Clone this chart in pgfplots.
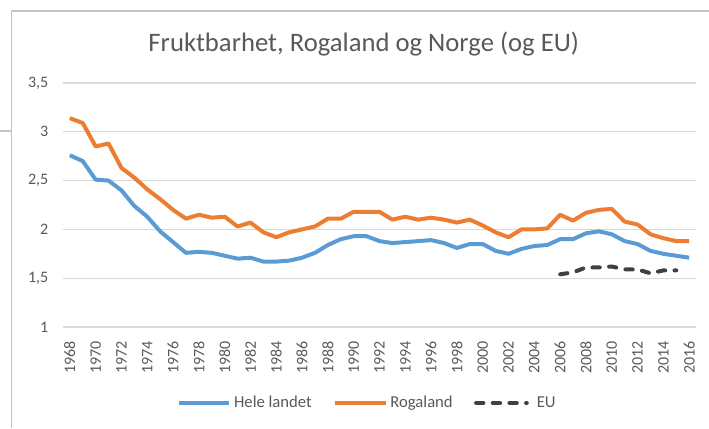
\documentclass[border=0pt]{standalone}
\usepackage{pgfplots}
\pgfplotsset{compat=1.18}
\usepackage{fontspec}
\setmainfont{Carlito}
\definecolor{cblue}{HTML}{5B9BD5}
\definecolor{corange}{HTML}{ED7D31}
\definecolor{ceu}{HTML}{404040}
\definecolor{cgrid}{HTML}{D9D9D9}
\definecolor{ctext}{HTML}{595959}
\definecolor{cframe}{HTML}{C4C4C4}
\pgfplotstableread{
year val
1968 2.76
1969 2.70
1970 2.51
1971 2.50
1972 2.40
1973 2.24
1974 2.13
1975 1.98
1976 1.87
1977 1.76
1978 1.77
1979 1.76
1980 1.73
1981 1.70
1982 1.71
1983 1.67
1984 1.67
1985 1.68
1986 1.71
1987 1.76
1988 1.84
1989 1.90
1990 1.93
1991 1.93
1992 1.88
1993 1.86
1994 1.87
1995 1.88
1996 1.89
1997 1.86
1998 1.81
1999 1.85
2000 1.85
2001 1.78
2002 1.75
2003 1.80
2004 1.83
2005 1.84
2006 1.90
2007 1.90
2008 1.96
2009 1.98
2010 1.95
2011 1.88
2012 1.85
2013 1.78
2014 1.75
2015 1.73
2016 1.71
}\helelandet
\pgfplotstableread{
year val
1968 3.14
1969 3.09
1970 2.85
1971 2.88
1972 2.63
1973 2.53
1974 2.41
1975 2.31
1976 2.20
1977 2.11
1978 2.15
1979 2.12
1980 2.13
1981 2.03
1982 2.07
1983 1.97
1984 1.92
1985 1.97
1986 2.00
1987 2.03
1988 2.11
1989 2.11
1990 2.18
1991 2.18
1992 2.18
1993 2.10
1994 2.13
1995 2.10
1996 2.12
1997 2.10
1998 2.07
1999 2.10
2000 2.04
2001 1.97
2002 1.92
2003 2.00
2004 2.00
2005 2.01
2006 2.15
2007 2.09
2008 2.17
2009 2.20
2010 2.21
2011 2.08
2012 2.05
2013 1.95
2014 1.91
2015 1.88
2016 1.88
}\rogaland
\pgfplotstableread{
year val
2006 1.54
2007 1.56
2008 1.61
2009 1.61
2010 1.62
2011 1.59
2012 1.59
2013 1.55
2014 1.58
2015 1.58
}\eu
\begin{document}
\begin{tikzpicture}[x=1pt,y=1pt]
\useasboundingbox (0,0) rectangle (531.75,321);
\draw[cframe, line width=0.8pt] (8.6,0) -- (8.6,312.75) -- (531.75,312.75);
\draw[cframe, line width=0.8pt] (0,222.75) -- (8.6,222.75);
\begin{axis}[
  at={(47.25pt,75.75pt)}, anchor=south west,
  scale only axis, width=474.75pt, height=183pt,
  xmin=1967.47, xmax=2016.53, ymin=1, ymax=3.5,
  xtick={1968,1970,...,2016},
  ytick={1,1.5,2,2.5,3,3.5},
  ymajorgrids, grid style={cgrid, line width=0.9pt},
  axis line style={draw=none},
  major tick style={draw=none},
  /pgf/number format/assume math mode=true,
  tick label style={font=\fontsize{12}{14}\selectfont, text=ctext},
  yticklabel style={/pgf/number format/use comma, xshift=-7.5pt},
  xticklabel style={/pgf/number format/1000 sep={}, rotate=90, anchor=east, yshift=0pt, xshift=-7pt},
  clip=false,
  legend columns=3,
  legend style={draw=none, fill=none, at={(0.5,0)}, anchor=center, yshift=-57pt, xshift=-9pt,
    font=\fontsize{12.5}{15}\selectfont, text=ctext,
    /tikz/every even column/.append style={column sep=14pt}},
  legend image code/.code={\draw[#1] (0pt,0pt) -- (38pt,0pt);},
  every axis plot/.append style={line width=3pt, line join=round},
]
\addplot[cblue] table[x=year,y=val] {\helelandet};
\addlegendentry{Hele landet}
\addplot[corange] table[x=year,y=val] {\rogaland};
\addlegendentry{Rogaland}
\addplot[ceu, line cap=round, dash pattern=on 5.5pt off 7pt] table[x=year,y=val] {\eu};
\addlegendentry{\hspace{4pt}EU}
\end{axis}
\node[anchor=base, text=ctext, font=\fontsize{20}{24}\selectfont] at (272.8,282.2) {Fruktbarhet, Rogaland og Norge (og EU)};
\end{tikzpicture}
\end{document}
